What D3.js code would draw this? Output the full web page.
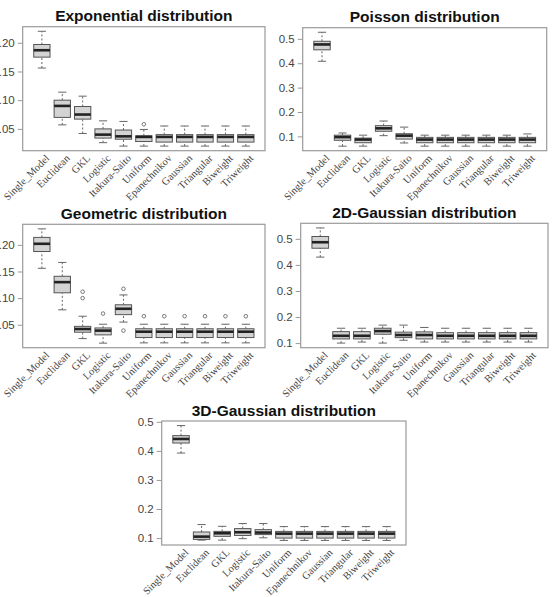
<!DOCTYPE html>
<html lang="en">
<head>
<meta charset="UTF-8">
<title>Boxplots by distribution</title>
<script src="https://cdn.jsdelivr.net/npm/d3@7"></script>
<style>
  body { margin: 0; background: #fff; }
  .title { font-family: "Liberation Sans", Arial, sans-serif; font-weight: bold; font-size: 15.5px; fill: #111; }
  .ytick text { font-family: "Liberation Sans", Arial, sans-serif; font-size: 11.5px; fill: #444; }
  .ytick line { stroke: #999; }
  .xlab { font-family: "Liberation Serif", "Times New Roman", serif; font-size: 10.5px; fill: #444; }
</style>
</head>
<body>
<div id="chart"></div>
<script>
// categories along x (same for every panel)
const categories = ["Single_Model", "Euclidean", "GKL", "Logistic", "Itakura-Saito",
  "Uniform", "Epanechnikov", "Gaussian", "Triangular", "Biweight", "Triweight"];

// each row: [lower whisker, Q1, median, Q3, upper whisker]
const expStats = [
  [0.156, 0.175, 0.187, 0.197, 0.220],
  [0.057, 0.070, 0.090, 0.100, 0.114],
  [0.042, 0.067, 0.075, 0.089, 0.107],
  [0.026, 0.034, 0.040, 0.050, 0.064],
  [0.020, 0.032, 0.037, 0.048, 0.063],
  [0.020, 0.028, 0.036, 0.038, 0.049],
  [0.020, 0.027, 0.036, 0.040, 0.055],
  [0.020, 0.027, 0.036, 0.040, 0.055],
  [0.020, 0.027, 0.036, 0.040, 0.055],
  [0.020, 0.027, 0.036, 0.040, 0.055],
  [0.020, 0.027, 0.036, 0.040, 0.055]
];
const expOutliers = [[5, 0.058]];

const poisStats = [
  [0.408, 0.455, 0.477, 0.490, 0.527],
  [0.060, 0.084, 0.097, 0.105, 0.114],
  [0.060, 0.074, 0.087, 0.093, 0.105],
  [0.103, 0.121, 0.133, 0.144, 0.163],
  [0.073, 0.089, 0.103, 0.111, 0.138],
  [0.060, 0.074, 0.087, 0.096, 0.105],
  [0.060, 0.074, 0.087, 0.096, 0.105],
  [0.060, 0.074, 0.087, 0.096, 0.105],
  [0.060, 0.074, 0.087, 0.096, 0.105],
  [0.060, 0.074, 0.087, 0.096, 0.105],
  [0.060, 0.074, 0.087, 0.096, 0.110]
];
const poisOutliers = [];

const geomStats = [
  [0.156, 0.1875, 0.202, 0.214, 0.230],
  [0.078, 0.110, 0.130, 0.141, 0.167],
  [0.024, 0.036, 0.042, 0.047, 0.066],
  [0.0155, 0.031, 0.039, 0.044, 0.051],
  [0.055, 0.069, 0.080, 0.0875, 0.106],
  [0.016, 0.026, 0.037, 0.0425, 0.051],
  [0.016, 0.026, 0.037, 0.0425, 0.051],
  [0.016, 0.026, 0.037, 0.0425, 0.051],
  [0.016, 0.026, 0.037, 0.0425, 0.051],
  [0.016, 0.026, 0.037, 0.0425, 0.051],
  [0.016, 0.026, 0.037, 0.0425, 0.051]
];
const geomOutliers = [[2, 0.112], [2, 0.100], [3, 0.071], [4, 0.1175], [4, 0.039],
  [5, 0.066], [6, 0.066], [7, 0.066], [8, 0.066], [9, 0.066], [10, 0.066]];

const gauss2Stats = [
  [0.430, 0.464, 0.487, 0.509, 0.542],
  [0.100, 0.116, 0.128, 0.144, 0.157],
  [0.104, 0.116, 0.128, 0.144, 0.157],
  [0.100, 0.134, 0.146, 0.157, 0.169],
  [0.111, 0.121, 0.131, 0.142, 0.169],
  [0.104, 0.116, 0.131, 0.143, 0.160],
  [0.104, 0.116, 0.128, 0.140, 0.157],
  [0.104, 0.116, 0.128, 0.140, 0.157],
  [0.104, 0.116, 0.128, 0.140, 0.157],
  [0.104, 0.116, 0.128, 0.140, 0.157],
  [0.104, 0.116, 0.128, 0.140, 0.157]
];
const gauss2Outliers = [];

const gauss3Stats = [
  [0.3925, 0.427, 0.441, 0.4525, 0.487],
  [0.093, 0.0955, 0.105, 0.121, 0.1465],
  [0.093, 0.106, 0.1165, 0.123, 0.1405],
  [0.098, 0.109, 0.120, 0.1326, 0.150],
  [0.101, 0.112, 0.119, 0.129, 0.150],
  [0.092, 0.100, 0.1153, 0.123, 0.1395],
  [0.092, 0.100, 0.1153, 0.123, 0.1395],
  [0.092, 0.100, 0.1153, 0.123, 0.1395],
  [0.092, 0.100, 0.1153, 0.123, 0.1395],
  [0.092, 0.100, 0.1153, 0.123, 0.1395],
  [0.092, 0.100, 0.1153, 0.123, 0.1395]
];
const gauss3Outliers = [];

const smallTicks = [0.05, 0.10, 0.15, 0.20];
const bigTicks = [0.1, 0.2, 0.3, 0.4, 0.5];

const panels = [
  {title: "Exponential distribution", stats: expStats, outliers: expOutliers, ticks: smallTicks, fmt: ".2f",
   left: 22.7, right: 265, top: 26.7, bottom: 150.7},
  {title: "Poisson distribution", stats: poisStats, outliers: poisOutliers, ticks: bigTicks, fmt: ".1f",
   left: 302.7, right: 546.7, top: 27.7, bottom: 150.7},
  {title: "Geometric distribution", stats: geomStats, outliers: geomOutliers, ticks: smallTicks, fmt: ".2f",
   left: 22.7, right: 265, top: 224.3, bottom: 347.7},
  {title: "2D-Gaussian distribution", stats: gauss2Stats, outliers: gauss2Outliers, ticks: bigTicks, fmt: ".1f",
   left: 300.7, right: 548, top: 223.3, bottom: 347.7},
  {title: "3D-Gaussian distribution", stats: gauss3Stats, outliers: gauss3Outliers, ticks: bigTicks, fmt: ".1f",
   left: 161.7, right: 406, top: 421, bottom: 545}
];

const svg = d3.select("#chart").append("svg")
    .attr("width", 555)
    .attr("height", 597);

panels.forEach(drawPanel);

function drawPanel(p) {
    // R style: boxes at 1..n, xlim 0.5..n+0.5 widened by 4%
    const n = categories.length;
    const x = d3.scaleLinear().domain([0.5 - 0.04 * n, n + 0.5 + 0.04 * n]).range([p.left, p.right]);
    const vals = p.stats.flatMap(d => [d[0], d[4]]).concat(p.outliers.map(o => o[1]));
    const [lo, hi] = d3.extent(vals), pad = (hi - lo) * 0.04;
    const y = d3.scaleLinear().domain([lo - pad, hi + pad]).range([p.bottom, p.top]);

    const g = svg.append("g");
    const halfBox = x(1.4) - x(1), halfCap = x(1.2) - x(1);

    const yAxis = d3.axisLeft(y)
        .tickValues(p.ticks)
        .tickFormat(d3.format(p.fmt))
        .tickSize(5)
        .tickPadding(3);
    g.append("g")
        .attr("class", "ytick")
        .attr("transform", `translate(${p.left},0)`)
        .call(yAxis)
        .call(a => a.select(".domain").remove())
        .call(a => a.selectAll("text").attr("font-family", null).attr("font-size", null));

    g.append("rect")
        .attr("x", p.left).attr("y", p.top)
        .attr("width", p.right - p.left).attr("height", p.bottom - p.top)
        .attr("fill", "none").attr("stroke", "#9a9a9a").attr("stroke-width", 1.2);

    const box = g.selectAll("g.box").data(p.stats).join("g").attr("class", "box");

    // whiskers
    box.append("line")
        .attr("x1", (d, i) => x(i + 1)).attr("x2", (d, i) => x(i + 1))
        .attr("y1", d => y(d[0])).attr("y2", d => y(d[1]))
        .attr("stroke", "#666").attr("stroke-dasharray", "2,2");
    box.append("line")
        .attr("x1", (d, i) => x(i + 1)).attr("x2", (d, i) => x(i + 1))
        .attr("y1", d => y(d[3])).attr("y2", d => y(d[4]))
        .attr("stroke", "#666").attr("stroke-dasharray", "2,2");
    // staples
    [0, 4].forEach(k => {
        box.append("line")
            .attr("x1", (d, i) => x(i + 1) - halfCap).attr("x2", (d, i) => x(i + 1) + halfCap)
            .attr("y1", d => y(d[k])).attr("y2", d => y(d[k]))
            .attr("stroke", "#666");
    });
    box.append("rect")
        .attr("x", (d, i) => x(i + 1) - halfBox)
        .attr("width", 2 * halfBox)
        .attr("y", d => y(d[3]))
        .attr("height", d => y(d[1]) - y(d[3]))
        .attr("fill", "#d3d3d3").attr("stroke", "#555");
    box.append("line")
        .attr("x1", (d, i) => x(i + 1) - halfBox).attr("x2", (d, i) => x(i + 1) + halfBox)
        .attr("y1", d => y(d[2])).attr("y2", d => y(d[2]))
        .attr("stroke", "#222").attr("stroke-width", 2.6);

    g.selectAll("circle.out").data(p.outliers).join("circle")
        .attr("class", "out")
        .attr("cx", d => x(d[0] + 1)).attr("cy", d => y(d[1]))
        .attr("r", 1.8)
        .attr("fill", "none").attr("stroke", "#777");

    g.selectAll("text.xlab").data(categories).join("text")
        .attr("class", "xlab")
        .attr("transform", (d, i) => `translate(${x(i + 1) + 6.5},${p.bottom + 6.5}) rotate(-45)`)
        .attr("text-anchor", "end")
        .attr("dominant-baseline", "middle")
        .text(d => d);

    g.append("text")
        .attr("class", "title")
        .attr("x", (p.left + p.right) / 2)
        .attr("y", p.top - 5.5)
        .attr("text-anchor", "middle")
        .text(p.title);
}
</script>
</body>
</html>
